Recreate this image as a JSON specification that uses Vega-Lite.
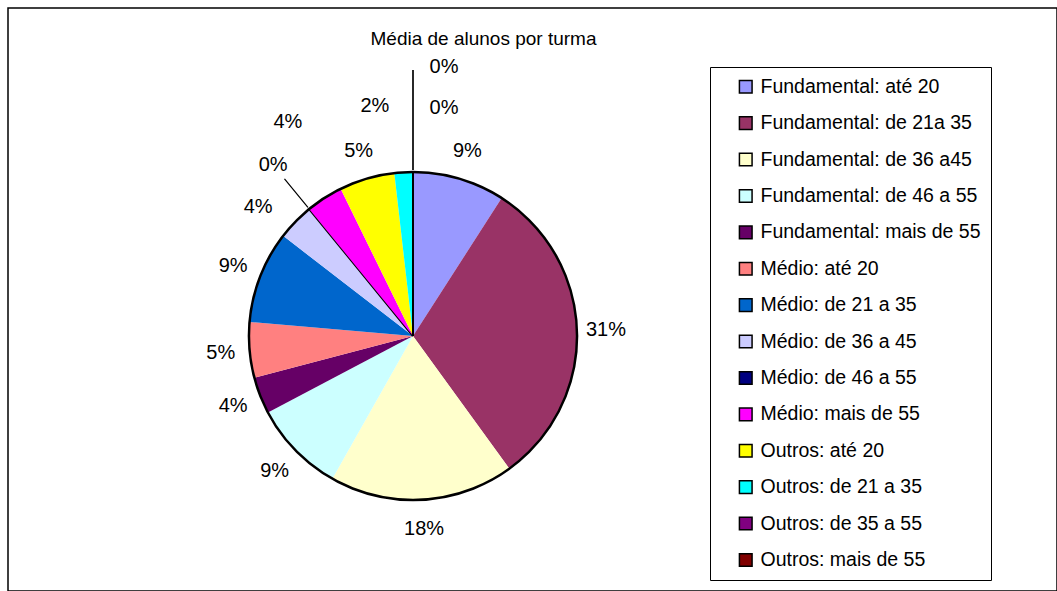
{
  "$schema": "https://vega.github.io/schema/vega-lite/v6.json",
  "width": 1049,
  "height": 583,
  "autosize": {"type": "none"},
  "padding": {"left": 8, "top": 8, "right": 0, "bottom": 0},
  "background": "white",
  "title": {
    "text": "Média de alunos por turma",
    "anchor": "middle",
    "frame": "group",
    "dx": -49,
    "offset": -42,
    "fontSize": 19,
    "font": "Liberation Sans",
    "fontWeight": "normal",
    "color": "black"
  },
  "data": {
    "values": [
      {"i": 1, "cat": "Fundamental: até 20", "value": 5, "label": "9%"},
      {"i": 2, "cat": "Fundamental: de 21a 35", "value": 17, "label": "31%"},
      {"i": 3, "cat": "Fundamental: de 36 a45", "value": 10, "label": "18%"},
      {"i": 4, "cat": "Fundamental: de 46 a 55", "value": 5, "label": "9%"},
      {"i": 5, "cat": "Fundamental: mais de 55", "value": 2, "label": "4%"},
      {"i": 6, "cat": "Médio: até 20", "value": 3, "label": "5%"},
      {"i": 7, "cat": "Médio: de 21 a 35", "value": 5, "label": "9%"},
      {"i": 8, "cat": "Médio: de 36 a 45", "value": 2, "label": "4%"},
      {"i": 9, "cat": "Médio: de 46 a 55", "value": 0, "label": "0%"},
      {"i": 10, "cat": "Médio: mais de 55", "value": 2, "label": "4%"},
      {"i": 11, "cat": "Outros: até 20", "value": 3, "label": "5%"},
      {"i": 12, "cat": "Outros: de 21 a 35", "value": 1, "label": "2%"},
      {"i": 13, "cat": "Outros: de 35 a 55", "value": 0, "label": "0%"},
      {"i": 14, "cat": "Outros: mais de 55", "value": 0, "label": "0%"}
    ]
  },
  "layer": [
    {
      "data": {"values": [{"k": 1}]},
      "mark": {"type": "rect", "fillOpacity": 0, "stroke": "black", "strokeWidth": 1.5},
      "encoding": {
        "x": {"value": 0},
        "x2": {"value": "width"},
        "y": {"value": 0},
        "y2": {"value": "height"}
      }
    },
    {
      "mark": {"type": "arc", "outerRadius": 164, "x": 405, "y": 328, "stroke": "black"},
      "encoding": {
        "theta": {"field": "value", "type": "quantitative", "stack": true},
        "order": {"field": "i", "type": "quantitative"},
        "color": {
          "field": "cat",
          "type": "nominal",
          "scale": {
            "domain": ["Fundamental: até 20", "Fundamental: de 21a 35", "Fundamental: de 36 a45", "Fundamental: de 46 a 55", "Fundamental: mais de 55", "Médio: até 20", "Médio: de 21 a 35", "Médio: de 36 a 45", "Médio: de 46 a 55", "Médio: mais de 55", "Outros: até 20", "Outros: de 21 a 35", "Outros: de 35 a 55", "Outros: mais de 55"],
            "range": ["#9999FF", "#993366", "#FFFFCC", "#CCFFFF", "#660066", "#FF8080", "#0066CC", "#CCCCFF", "#000080", "#FF00FF", "#FFFF00", "#00FFFF", "#800080", "#800000"]
          },
          "legend": {
            "title": null,
            "orient": "none",
            "legendX": 702,
            "legendY": 59,
            "strokeColor": "black",
            "padding": 10,
            "symbolType": "square",
            "symbolSize": 160,
            "symbolStrokeColor": "black",
            "symbolStrokeWidth": 1.5,
            "symbolOpacity": 1,
            "symbolOffset": 16,
            "labelOffset": 5,
            "labelFont": "Liberation Sans",
            "labelFontSize": 19.5,
            "labelColor": "black",
            "labelLimit": 400,
            "rowPadding": 15.4
          }
        },
        "strokeWidth": {"condition": {"test": "datum.value === 0", "value": 2}, "value": 0}
      }
    },
    {
      "mark": {"type": "arc", "innerRadius": 166, "outerRadius": 266, "x": 405, "y": 328, "fillOpacity": 0, "stroke": "black"},
      "encoding": {
        "theta": {"field": "value", "type": "quantitative", "stack": true},
        "order": {"field": "i", "type": "quantitative"},
        "strokeWidth": {"condition": {"test": "datum.i >= 13", "value": 1.2}, "value": 0}
      }
    },
    {
      "mark": {"type": "arc", "innerRadius": 166, "outerRadius": 203, "x": 405, "y": 328, "fillOpacity": 0, "stroke": "black"},
      "encoding": {
        "theta": {"field": "value", "type": "quantitative", "stack": true},
        "order": {"field": "i", "type": "quantitative"},
        "strokeWidth": {"condition": {"test": "datum.i === 9", "value": 1.2}, "value": 0}
      }
    },
    {
      "mark": {"type": "text", "x": 405, "y": 328, "radius": 193, "font": "Liberation Sans", "fontSize": 20, "fill": "black"},
      "encoding": {
        "theta": {"field": "value", "type": "quantitative", "stack": true},
        "order": {"field": "i", "type": "quantitative"},
        "text": {"condition": {"test": "indexof([1,2,3,4,5,6,7,11], datum.i) >= 0", "field": "label", "type": "nominal"}, "value": ""}
      }
    },
    {
      "mark": {"type": "text", "x": 405, "y": 328, "radius": 202, "dx": -10, "dy": 12, "font": "Liberation Sans", "fontSize": 20, "fill": "black"},
      "encoding": {
        "theta": {"field": "value", "type": "quantitative", "stack": true},
        "order": {"field": "i", "type": "quantitative"},
        "text": {"condition": {"test": "datum.i === 8", "field": "label", "type": "nominal"}, "value": ""}
      }
    },
    {
      "mark": {"type": "text", "x": 405, "y": 328, "radius": 221, "font": "Liberation Sans", "fontSize": 20, "fill": "black"},
      "encoding": {
        "theta": {"field": "value", "type": "quantitative", "stack": true},
        "order": {"field": "i", "type": "quantitative"},
        "text": {"condition": {"test": "datum.i === 9", "field": "label", "type": "nominal"}, "value": ""}
      }
    },
    {
      "mark": {"type": "text", "x": 405, "y": 328, "radius": 248, "dx": 9, "dy": -5, "font": "Liberation Sans", "fontSize": 20, "fill": "black"},
      "encoding": {
        "theta": {"field": "value", "type": "quantitative", "stack": true},
        "order": {"field": "i", "type": "quantitative"},
        "text": {"condition": {"test": "datum.i === 10", "field": "label", "type": "nominal"}, "value": ""}
      }
    },
    {
      "mark": {"type": "text", "x": 405, "y": 328, "radius": 230, "dx": -25, "font": "Liberation Sans", "fontSize": 20, "fill": "black"},
      "encoding": {
        "theta": {"field": "value", "type": "quantitative", "stack": true},
        "order": {"field": "i", "type": "quantitative"},
        "text": {"condition": {"test": "datum.i === 12", "field": "label", "type": "nominal"}, "value": ""}
      }
    },
    {
      "mark": {"type": "text", "x": 405, "y": 328, "radius": 228, "dx": 31, "font": "Liberation Sans", "fontSize": 20, "fill": "black"},
      "encoding": {
        "theta": {"field": "value", "type": "quantitative", "stack": true},
        "order": {"field": "i", "type": "quantitative"},
        "text": {"condition": {"test": "datum.i === 13", "field": "label", "type": "nominal"}, "value": ""}
      }
    },
    {
      "mark": {"type": "text", "x": 405, "y": 328, "radius": 269, "dx": 31, "font": "Liberation Sans", "fontSize": 20, "fill": "black"},
      "encoding": {
        "theta": {"field": "value", "type": "quantitative", "stack": true},
        "order": {"field": "i", "type": "quantitative"},
        "text": {"condition": {"test": "datum.i === 14", "field": "label", "type": "nominal"}, "value": ""}
      }
    },
    {
      "data": {"values": [{"k": 1}]},
      "mark": {"type": "arc", "theta": 0, "theta2": 6.2832, "outerRadius": 164, "x": 405, "y": 328, "fillOpacity": 0, "stroke": "black", "strokeWidth": 2.5},
      "encoding": {}
    }
  ],
  "config": {
    "view": {"stroke": null}
  }
}
